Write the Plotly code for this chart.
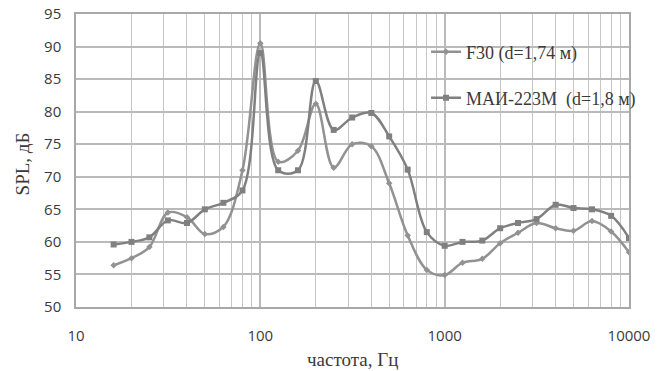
import plotly.graph_objects as go

freqs = [16, 20, 25, 31.5, 40, 50, 63, 80, 100, 125, 160, 200, 250, 315, 400,
         500, 630, 800, 1000, 1250, 1600, 2000, 2500, 3150, 4000, 5000, 6300, 8000, 10000]
f30 = [56.4, 57.5, 59.2, 64.5, 63.8, 61.2, 62.3, 71.0, 90.5, 72.3, 74.0, 81.2, 71.4, 75.0, 74.7,
       69.0, 61.0, 55.7, 54.9, 56.8, 57.4, 59.8, 61.4, 62.9, 62.1, 61.7, 63.2, 61.6, 58.4]
mai = [59.6, 60.0, 60.7, 63.3, 62.9, 65.0, 66.0, 67.9, 89.0, 71.0, 71.0, 84.7, 77.2, 79.1, 79.8,
       76.2, 71.1, 61.5, 59.4, 60.0, 60.2, 62.1, 62.9, 63.5, 65.7, 65.2, 65.0, 64.0, 60.6]
name_f30 = "F30 (d=1,74 м)"
name_mai = "МАИ-223М\u00a0\u00a0(d=1,8 м)"
x_title = "частота, Гц"
y_title = "SPL, дБ"
x_ticks = [10, 100, 1000, 10000]
y_ticks = [50, 55, 60, 65, 70, 75, 80, 85, 90, 95]

fig = go.Figure()
fig.add_trace(go.Scatter(
    x=freqs, y=f30, name=name_f30, mode="lines+markers", showlegend=True,
    line=dict(color="#929292", width=2.5, shape="spline", smoothing=1),
    marker=dict(symbol="diamond", size=5, color="#929292"),
    legend="legend"))
fig.add_trace(go.Scatter(
    x=freqs, y=mai, name=name_mai, mode="lines+markers", showlegend=True,
    line=dict(color="#808080", width=2.5, shape="spline", smoothing=1),
    marker=dict(symbol="square", size=6, color="#808080"),
    legend="legend2"))

serif = "Liberation Serif, Times New Roman, serif"
sans = "Open Sans, Arial, sans-serif"
legend_font = dict(family=serif, size=18, color="#3a3a3a")

fig.update_layout(
    width=663, height=371,
    margin=dict(l=76, r=34, t=14, b=64),
    paper_bgcolor="white", plot_bgcolor="white",
    showlegend=True,
    legend=dict(x=0.633, y=0.870, xanchor="left", yanchor="middle",
                bgcolor="rgba(0,0,0,0)", font=legend_font),
    legend2=dict(x=0.633, y=0.713, xanchor="left", yanchor="middle",
                 bgcolor="rgba(0,0,0,0)", font=legend_font),
    xaxis=dict(type="log", range=[1, 4], tickvals=x_ticks, ticktext=[str(v) for v in x_ticks],
               showgrid=True, gridcolor="#bababa", gridwidth=1.5,
               minor=dict(dtick="D1", showgrid=True, gridcolor="#c6c6c6", gridwidth=1, ticks=""),
               showline=True, linecolor="#a8a8a8", linewidth=1.5, mirror=True,
               ticks="", ticklabelstandoff=14, automargin=False,
               tickfont=dict(family=sans, size=15, color="#3a3a3a"),
               zeroline=False),
    yaxis=dict(range=[50, 95], tickvals=y_ticks, showgrid=True, gridcolor="#bababa", gridwidth=1.5,
               showline=True, linecolor="#a8a8a8", linewidth=1.5, mirror=True,
               ticks="", ticklabelstandoff=10, automargin=False,
               tickfont=dict(family=sans, size=15, color="#3a3a3a"),
               zeroline=False),
    annotations=[
        dict(text=x_title, xref="paper", yref="paper", x=0.5, y=-0.179,
             xanchor="center", yanchor="middle", showarrow=False,
             font=dict(family=serif, size=19, color="#3a3a3a")),
        dict(text=y_title, xref="paper", yref="paper", x=-0.0977, y=0.49, textangle=-90,
             xanchor="center", yanchor="middle", showarrow=False,
             font=dict(family=serif, size=19, color="#3a3a3a")),
    ],
)

fig.write_html("out.html", config={"displayModeBar": False},
               post_script="document.body.style.margin='0';")
